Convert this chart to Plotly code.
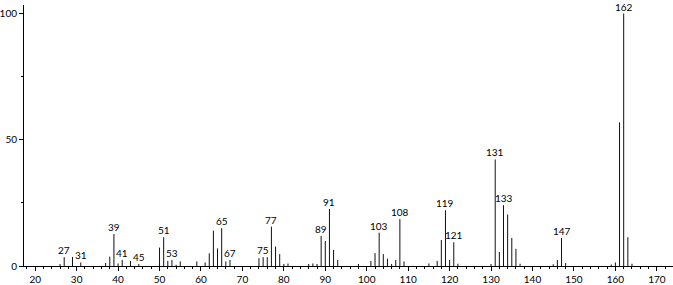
import plotly.graph_objects as go

mz = [26, 27, 29, 31, 37, 38, 39, 40, 41, 43, 45, 50, 51, 52, 53, 54, 55, 59, 61, 62,
      63, 64, 65, 66, 67, 74, 75, 76, 77, 78, 79, 80, 81, 86, 87, 88, 89, 90, 91, 92,
      93, 98, 101, 102, 103, 104, 105, 106, 107, 108, 109, 115, 117, 118, 119, 120, 121, 122, 130, 131,
      132, 133, 134, 135, 136, 137, 145, 146, 147, 148, 159, 160, 161, 162, 163, 164]
intensity = [0.8, 3.5, 3.6, 1.4, 1.2, 3.7, 12.7, 1.0, 2.4, 2.0, 0.8, 7.3, 11.4, 2.0, 2.4, 0.5, 1.8, 1.8, 1.4, 5.0,
             14.0, 7.0, 15.0, 1.8, 2.4, 3.1, 3.5, 3.5, 15.6, 7.7, 4.7, 0.8, 1.0, 0.8, 1.0, 0.8, 11.9, 9.9, 22.6, 6.4,
             2.4, 0.8, 2.0, 5.1, 13.2, 4.7, 2.9, 0.8, 2.4, 18.6, 1.8, 1.0, 2.0, 10.3, 22.1, 2.4, 9.4, 0.9, 0.8, 42.2,
             5.6, 24.1, 20.4, 11.1, 6.8, 0.9, 0.7, 2.4, 11.1, 1.2, 0.6, 1.4, 56.9, 100.0, 11.4, 0.9]
labeled = [27, 31, 39, 41, 45, 51, 53, 65, 67, 75, 77, 89, 91, 103, 108, 119, 121, 131, 133, 147, 162]
x_ticks = list(range(20, 171, 10))
y_ticks = [0, 50, 100]

FONT = "Lato, 'Open Sans', sans-serif"

xs, ys = [], []
for m, h in zip(mz, intensity):
    xs += [m, m, None]
    ys += [0, h, None]

fig = go.Figure()
fig.add_trace(go.Scatter(x=xs, y=ys, mode="lines",
                         line=dict(color="#111111", width=1),
                         hoverinfo="skip", showlegend=False))

lookup = dict(zip(mz, intensity))
for m in labeled:
    fig.add_annotation(x=m, y=lookup[m], text=str(m), showarrow=False,
                       xanchor="center", yanchor="bottom", yshift=-1,
                       font=dict(family=FONT, size=10, color="black"))

fig.update_layout(
    width=673, height=285,
    margin=dict(l=20, r=0, t=5, b=17),
    paper_bgcolor="white", plot_bgcolor="white",
    xaxis=dict(range=[17.3, 173.9], tickmode="array", tickvals=x_ticks,
               ticktext=[str(v) for v in x_ticks],
               showgrid=False, zeroline=False, showline=True,
               linecolor="black", linewidth=1,
               ticks="outside", ticklen=4, tickcolor="black", tickwidth=1,
               minor=dict(dtick=2, tick0=20, ticks="outside", ticklen=2,
                          tickcolor="black", showgrid=False),
               tickfont=dict(family=FONT, size=10, color="black")),
    yaxis=dict(range=[0, 103.4], tickmode="array", tickvals=y_ticks,
               showgrid=False, zeroline=False, showline=True,
               linecolor="black", linewidth=1,
               ticks="outside", ticklen=4, tickcolor="black", tickwidth=1,
               minor=dict(tickvals=[25, 75], ticks="outside", ticklen=2,
                          tickcolor="black", showgrid=False),
               tickfont=dict(family=FONT, size=10, color="black")),
)

fig.write_html("out.html")
